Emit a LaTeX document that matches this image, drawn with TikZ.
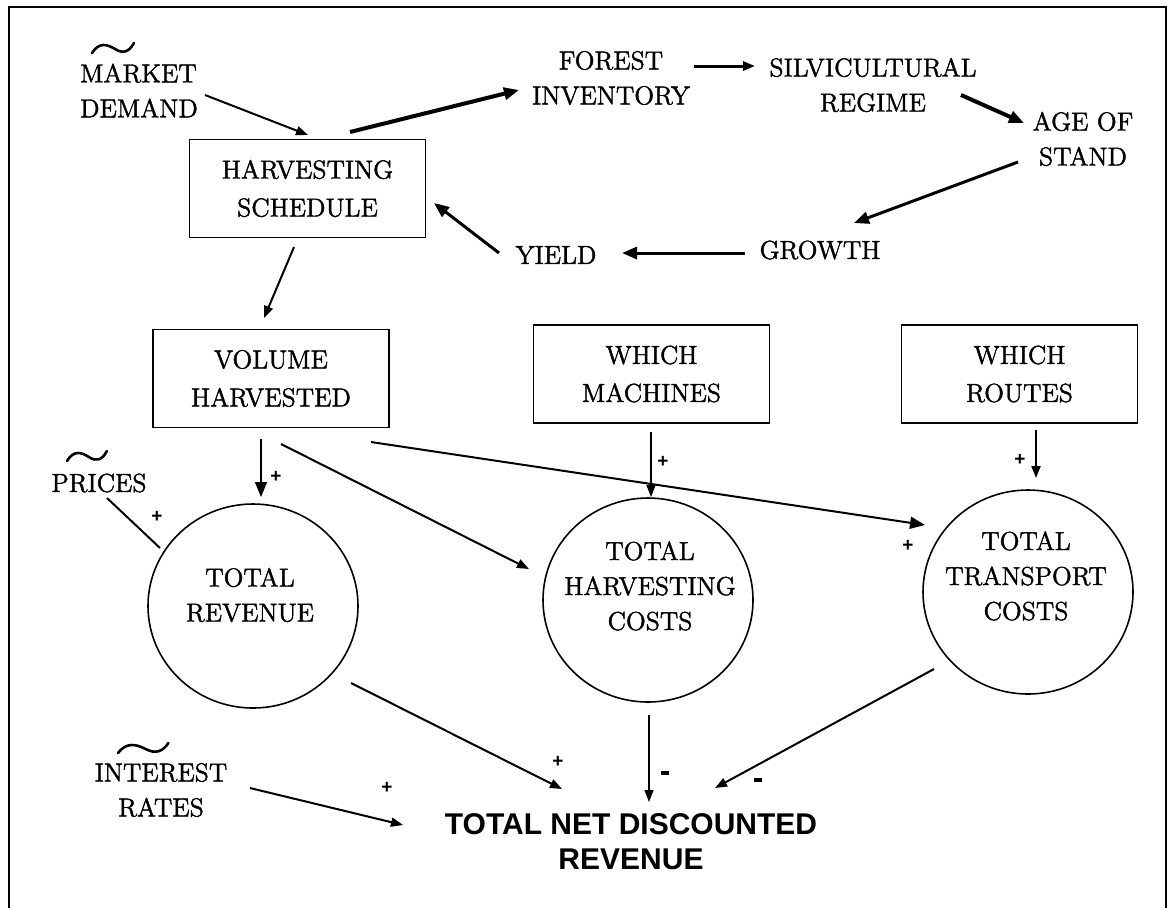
\documentclass[tikz,border=0pt]{standalone}
\usepackage{fontspec}
\newfontfamily\tnfont{Liberation Sans}
\newfontfamily\hvy{Latin Modern Roman}[FakeBold=1.6]
\usetikzlibrary{arrows.meta,calc,shapes.geometric}
\begin{document}
\begin{tikzpicture}[x=0.5pt,y=-0.5pt,
  lbl/.style={align=center,inner sep=0pt,font=\hvy\fontsize{13}{17.5}\selectfont},
  boxn/.style={draw,line width=0.8pt,minimum width=118pt,minimum height=49pt,align=center,inner sep=0pt,font=\hvy\fontsize{13}{19}\selectfont},
  circn/.style={draw,ellipse,line width=0.8pt,inner sep=0pt,minimum width=105pt,minimum height=102pt},
  sgn/.style={inner sep=0pt,font=\tnfont\bfseries\fontsize{9.5}{9.5}\selectfont},
  arrs/.style={-{Triangle[length=6pt,width=4.5pt]}},
  arrb/.style={-{Triangle[length=7.5pt,width=6pt]}},
  w1/.style={line width=0.6pt},
  w2/.style={line width=1pt},
  w3/.style={line width=1.5pt},
  w4/.style={line width=2pt},
  tld/.pic={\draw[line width=1.3pt,line cap=round] (0,6) .. controls (7,-5) and (15,-3) .. (23,2) .. controls (31,7) and (37,5) .. (42,-4);}
]
\useasboundingbox (0,0) rectangle (1171,907);
% frame
\draw[line width=1.1pt] (9,930) -- (9,7) -- (1166,7) -- (1166,930);

% text nodes
\node[lbl,align=left] (md) at (139,90.5) {MARKET\\DEMAND};
\pic at (92,47) {tld};
\node[boxn] (hs) at (307.5,188.5) {HARVESTING\\SCHEDULE};
\node[lbl] (fi) at (611,78) {FOREST\\INVENTORY};
\node[lbl] (sr) at (873,85) {SILVICULTURAL\\REGIME};
\node[lbl] (as) at (1083,139) {AGE OF\\STAND};
\node[lbl] (gr) at (820,250) {GROWTH};
\node[lbl] (yi) at (556,255) {YIELD};
\node[boxn] (vh) at (271,378.5) {VOLUME\\HARVESTED};
\node[boxn] (wm) at (651.5,374) {WHICH\\MACHINES};
\node[boxn] (wr) at (1019.5,374) {WHICH\\ROUTES};
\node[lbl] (pr) at (99,483) {PRICES};
\pic[xscale=0.95] at (67,455) {tld};
\node[circn] (tr) at (253,606) {};
\node[lbl] at (250,595) {TOTAL\\REVENUE};
\node[circn] (th) at (648,600) {};
\node[lbl] at (650,586) {TOTAL\\HARVESTING\\COSTS};
\node[circn] (tt) at (1028,592) {};
\node[lbl] at (1026,576) {TOTAL\\TRANSPORT\\COSTS};
\node[lbl] (ir) at (161,790) {INTEREST\\RATES};
\pic[xscale=1.2] at (118,747) {tld};
\node[align=center,inner sep=0pt,font=\tnfont\bfseries\fontsize{15}{17.5}\selectfont] (tn) at (631,842) {TOTAL NET DISCOUNTED\\REVENUE};

% connectors
\draw[arrs,w2] ($(md)+(66,4.5)$) -- ($(hs)+(0.5,-53.5)$);
\draw[arrb,w4] ($(hs)+(42.5,-56.5)$) -- ($(fi)+(-92,12)$);
\draw[arrs,w3] ($(fi)+(83,-12)$) -- ($(sr)+(-118,-19)$);
\draw[arrb,w4] ($(sr)+(88,10)$) -- ($(as)+(-59,-16)$);
\draw[arrb,w3] ($(as)+(-65,23)$) -- ($(gr)+(34,-27)$);
\draw[arrb,w3] ($(gr)+(-75,3)$) -- ($(yi)+(66,-2)$);
\draw[arrb,w3] ($(yi)+(-57,-2)$) -- ($(hs)+(126.5,14.5)$);
\draw[arrs,w2] ($(hs)+(-13.5,58.5)$) -- ($(vh)+(-7,-60.5)$);
\draw[arrb,w1] ($(vh)+(-10,60.5)$) -- ($(tr)+(8,-109)$);
\draw[arrs,w2] ($(vh)+(10,65.5)$) -- ($(th)+(-119,-31)$);
\draw[arrb,w2] ($(vh)+(100,63.5)$) -- ($(tt)+(-103,-67)$);
\draw[arrs,w1] ($(wm)+(-0.5,58)$) -- ($(th)+(3,-103)$);
\draw[arrs,w2] ($(wr)+(16.5,56)$) -- ($(tt)+(8,-114)$);
\draw[w2] ($(pr)+(8,15)$) -- ($(tr)+(-93,-58)$);
\draw[arrs,w2] ($(tr)+(98,77)$) -- ($(tn)+(-69,-53)$);
\draw[arrs,w1] ($(th)+(1,115)$) -- ($(tn)+(18,-40)$);
\draw[arrs,w2] ($(tt)+(-94,77)$) -- ($(tn)+(84,-54)$);
\draw[arrs,w2] ($(ir)+(89,-2)$) -- ($(tn)+(-228,-17)$);

% signs
\node[sgn] (p1) at (157,517) {+};
\node[sgn] (p2) at (276,477) {+};
\node[sgn] (p3) at (663,462) {+};
\node[sgn] (p4) at (1020,460) {+};
\node[sgn] (p5) at (908,546) {+};
\node[sgn] (p6) at (558,762) {+};
\node[sgn] (p7) at (387,788) {+};
\node[inner sep=0pt] (m1) at (665,773) {\rule{4pt}{1.6pt}};
\node[inner sep=0pt] (m2) at (758,780) {\rule{4pt}{1.6pt}};
\end{tikzpicture}
\end{document}
